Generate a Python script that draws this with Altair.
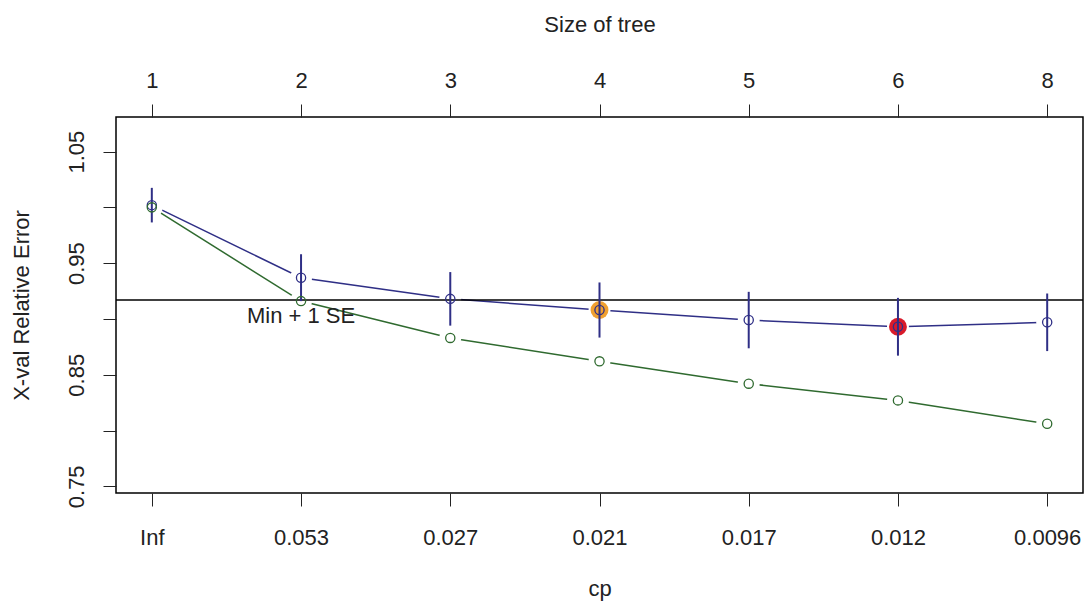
import altair as alt
import pandas as pd

# ---- data ----
idx = [1, 2, 3, 4, 5, 6, 7]
size_labels = ["1", "2", "3", "4", "5", "6", "8"]
cp_labels = ["Inf", "0.053", "0.027", "0.021", "0.017", "0.012", "0.0096"]
xerror = [1.002, 0.937, 0.918, 0.908, 0.899, 0.893, 0.897]
xstd = [0.0155, 0.021, 0.024, 0.0247, 0.0253, 0.0259, 0.0258]
rel_error = [1.000, 0.916, 0.883, 0.862, 0.842, 0.827, 0.806]
threshold = 0.917
y_ticks = [0.75, 0.80, 0.85, 0.90, 0.95, 1.00, 1.05]
y_tick_labels = ["0.75", "", "0.85", "", "0.95", "", "1.05"]
highlight_idx = [4, 6]
highlight_color = ["#f0a030", "#d81a2a"]
se_text = "Min + 1 SE"
se_text_x = 2
se_text_y = 0.896

df = pd.DataFrame({
    "i": idx,
    "xerror": xerror,
    "lo": [m - s for m, s in zip(xerror, xstd)],
    "hi": [m + s for m, s in zip(xerror, xstd)],
    "rel": rel_error,
})
hl = pd.DataFrame({
    "i": highlight_idx,
    "xerror": [xerror[k - 1] for k in highlight_idx],
    "col": highlight_color,
})
thr = pd.DataFrame({"thr": [threshold]})
txt = pd.DataFrame({"x": [se_text_x], "y": [se_text_y], "t": [se_text]})

FONT = "Liberation Sans"
FS = 22
INK = "#222222"
BLUE = "#2f2f86"
GREEN = "#2f6a2f"

W, H = 967, 376
xs = alt.Scale(domain=[0.76, 7.24], nice=False, zero=False)
ys = alt.Scale(domain=[0.744, 1.081], nice=False, zero=False)

def arr(lst):
    return "[" + ",".join("'" + s + "'" for s in lst) + "]"

common_axis = dict(
    labelFont=FONT, labelFontSize=FS, labelColor=INK,
    titleFont=FONT, titleFontSize=FS, titleColor=INK, titleFontWeight="normal",
    tickColor=INK, tickSize=13, tickWidth=1, domain=False, grid=False,
    labelOverlap=False, labelFlush=False, labelBound=False,
)

ax_bottom = alt.Axis(
    orient="bottom", values=idx, title="cp",
    labelExpr=arr(cp_labels) + "[round(datum.value)-1]",
    labelPadding=21, titleX=W / 2, titleY=95, titleBaseline="middle",
    titleAlign="center", **common_axis)
ax_top = alt.Axis(
    orient="top", values=idx, title="Size of tree",
    labelExpr=arr(size_labels) + "[round(datum.value)-1]",
    labelPadding=12, titleX=W / 2, titleY=-93, titleBaseline="middle",
    titleAlign="center", **common_axis)
ax_left = alt.Axis(
    orient="left", values=y_ticks, title="X-val Relative Error",
    labelExpr=arr(y_tick_labels) + "[round((datum.value-0.75)/0.05)]",
    labelAngle=270, labelAlign="center", labelBaseline="bottom",
    labelPadding=15, titleAngle=270, titleX=-95, titleY=H / 2,
    titleBaseline="middle", titleAlign="center", **common_axis)

def X(field, axis=None):
    return alt.X(field, type="quantitative", scale=xs, axis=axis)

def Y(field, axis=None):
    return alt.Y(field, type="quantitative", scale=ys, axis=axis)

base = alt.Chart(df)

blue_line = base.mark_line(color=BLUE, strokeWidth=1.5).encode(
    x=X("i", ax_bottom), y=Y("xerror", ax_left))
green_line = base.mark_line(color=GREEN, strokeWidth=1.5).encode(
    x=X("i", ax_top), y=Y("rel"))
gap_blue = base.mark_point(shape="circle", filled=True, color="white", opacity=1, size=480).encode(
    x=X("i"), y=Y("xerror"))
gap_green = base.mark_point(shape="circle", filled=True, color="white", opacity=1, size=480).encode(
    x=X("i"), y=Y("rel"))
highlight = alt.Chart(hl).mark_point(shape="circle", filled=True, opacity=1, size=320).encode(
    x=X("i"), y=Y("xerror"), color=alt.Color("col:N", scale=None))
hline = alt.Chart(thr).mark_rule(color="black", strokeWidth=1.5).encode(y=Y("thr"))
err = base.mark_rule(color=BLUE, strokeWidth=2).encode(x=X("i"), y=Y("lo"), y2="hi:Q")
pts_blue = base.mark_point(shape="circle", filled=False, color=BLUE, opacity=1, size=85, strokeWidth=1.3).encode(
    x=X("i"), y=Y("xerror"))
pts_green = base.mark_point(shape="circle", filled=False, color=GREEN, opacity=1, size=85, strokeWidth=1.3).encode(
    x=X("i"), y=Y("rel"))
label = alt.Chart(txt).mark_text(font=FONT, fontSize=FS, color=INK, align="center", baseline="alphabetic").encode(
    x=X("x"), y=Y("y"), text="t:N")

chart = alt.layer(
    blue_line, green_line, gap_blue, gap_green, highlight, hline, err, pts_blue, pts_green, label
).resolve_axis(x="independent", y="independent").properties(
    width=W, height=H,
    autosize=alt.AutoSizeParams(type="none"),
    padding={"left": 116, "top": 117, "right": 1, "bottom": 109},
    background="white",
).configure_view(stroke="black", strokeWidth=1.5)

chart.save("out.html", embed_options={"renderer": "svg", "actions": False})
